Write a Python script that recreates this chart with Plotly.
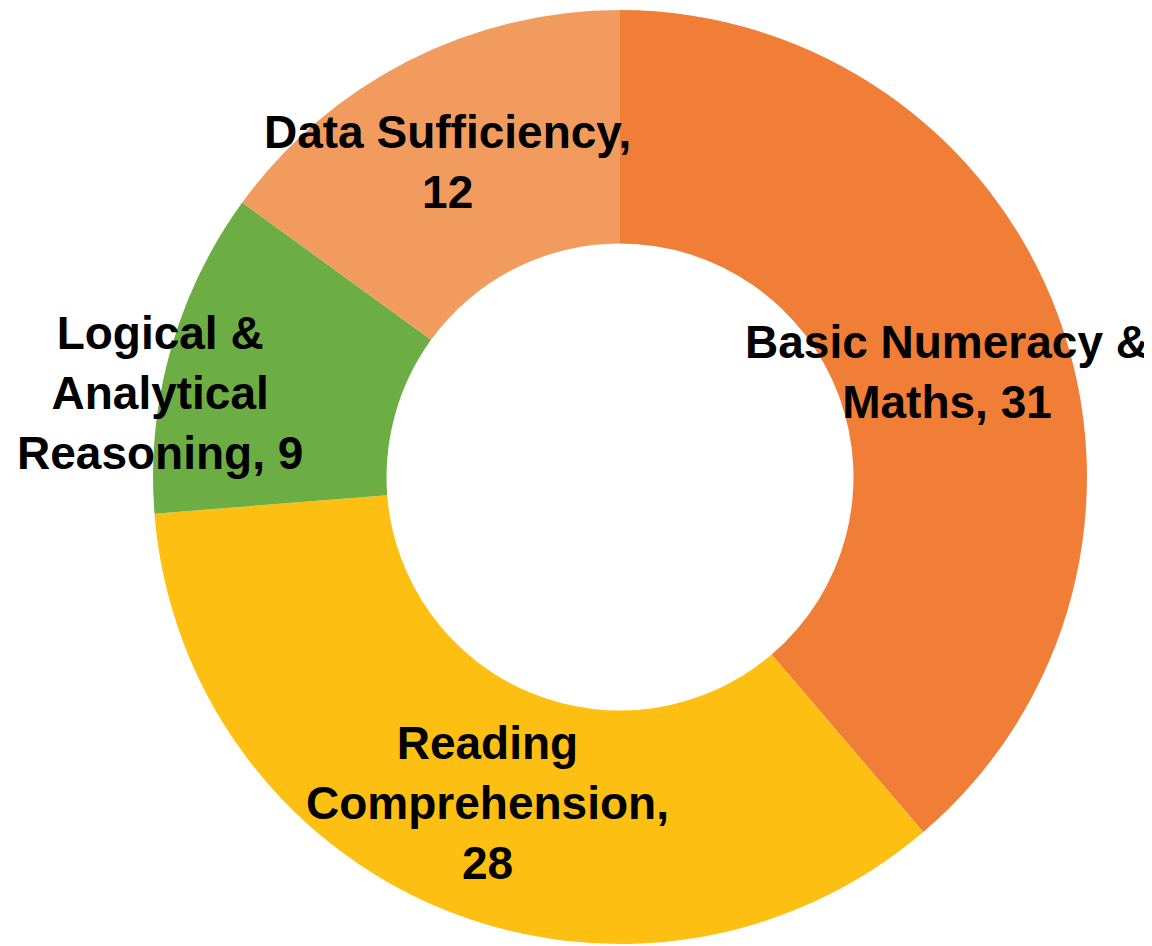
import plotly.graph_objects as go

# slice data, clockwise from 12 o'clock
categories = ["Basic Numeracy & Maths", "Reading Comprehension",
              "Logical & Analytical Reasoning", "Data Sufficiency"]
values = [31, 28, 9, 12]
colors = ["#F07E37", "#FDC012", "#6DAE44", "#F29B5F"]

# label text with the line breaks used in the picture
label_text = [
    "Basic Numeracy &<br>Maths, {}",
    "Reading<br>Comprehension,<br>{}",
    "Logical &<br>Analytical<br>Reasoning, {}",
    "Data Sufficiency,<br>{}",
]
# label centres in paper coordinates (page body has an 8px margin)
label_pos = [(0.8151, 0.6152), (0.4158, 0.1596), (0.1319, 0.5930), (0.3811, 0.8367)]

FONT = "Liberation Sans, Arial, sans-serif"

fig = go.Figure()
fig.add_trace(go.Pie(
    labels=categories,
    values=values,
    hole=0.5,
    sort=False,
    direction="clockwise",
    rotation=0,
    marker=dict(colors=colors, line=dict(width=0)),
    textinfo="none",
    showlegend=False,
    domain=dict(x=[0.1259, 0.9366], y=[0.0105, 0.9979]),
))

for fmt, v, (x, y) in zip(label_text, values, label_pos):
    fig.add_annotation(
        x=x, y=y, xref="paper", yref="paper",
        xanchor="center", yanchor="middle",
        text="<b>" + fmt.format(v).replace("<br>", "</b><br><b>") + "</b>",
        showarrow=False, align="center",
        font=dict(family=FONT, size=46, color="#000000"),
    )

fig.update_layout(
    width=1152, height=946,
    margin=dict(l=0, r=0, t=0, b=0),
    paper_bgcolor="white",
    plot_bgcolor="white",
)

fig.write_html("out.html")
